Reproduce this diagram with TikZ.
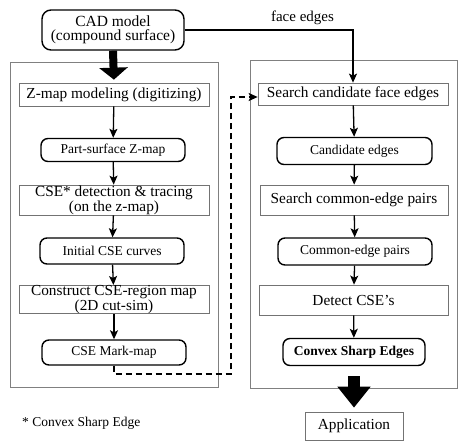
\documentclass[tikz,border=0pt]{standalone}
\usepackage{fontspec}
\setmainfont{Liberation Serif}
\usetikzlibrary{arrows.meta}

\begin{document}
\begin{tikzpicture}[x=1pt, y=-1pt,
    wide/.style={rectangle, draw=black!55, line width=0.7pt, minimum width=190pt, minimum height=23pt, inner sep=0pt, align=center, font=\fontsize{15.3}{13}\selectfont},
    rbox/.style={rectangle, rounded corners=7pt, draw, line width=1.4pt, minimum width=144pt, minimum height=25pt, inner sep=0pt, align=center, font=\fontsize{13.5}{14}\selectfont},
    frame/.style={draw=black!50, line width=0.7pt},
    flow/.style={line width=1.3pt, -{Stealth[length=9pt, width=8pt, inset=2pt]}},
    fat/.style={line width=8pt, -{Triangle[length=12pt, width=28pt]}}]
  \useasboundingbox (0, 0) rectangle (458, 440);

  % the two stages
  \draw[frame] (10, 62) rectangle (218, 387);
  \draw[frame] (250, 60) rectangle (457, 388);

  \node[rbox, minimum width=142pt, minimum height=40pt, rounded corners=9pt, font=\fontsize{15.5}{14.5}\selectfont] (cad) at (113, 30) {CAD model\\(compound surface)};

  \node[wide]   (zmap)    at (114, 94.5)  {Z-map modeling (digitizing)};
  \node[rbox, minimum height=23pt] (part) at (113, 150) {Part-surface Z-map};
  \node[wide, minimum height=30pt] (trace) at (114, 200) {CSE* detection \& tracing\\(on the z-map)};
  \node[rbox, minimum height=26pt] (curves) at (112, 251) {Initial CSE curves};
  \node[wide, minimum height=28pt] (region) at (114, 299.5) {Construct CSE-region map\\(2D cut-sim)};
  \node[rbox]   (markmap) at (114, 352.5) {CSE Mark-map};

  \node[wide, minimum height=22pt] (search) at (353, 94) {Search candidate face edges};
  \node[rbox, minimum width=155pt, minimum height=27pt] (cand) at (354.5, 151) {Candidate edges};
  \node[wide, minimum width=188pt, minimum height=30pt] (pairsearch) at (354, 200) {Search common-edge pairs};
  \node[rbox, minimum width=154pt, minimum height=27pt] (pairs) at (355, 251.5) {Common-edge pairs};
  \node[wide, minimum width=189pt, minimum height=30pt] (detect) at (353.5, 300) {Detect CSE's};
  \node[rbox, minimum width=142pt, minimum height=27pt, font=\fontsize{13.5}{14}\selectfont\bfseries] (convex) at (354, 352) {Convex Sharp Edges};
  \node[wide, minimum width=98pt, minimum height=28pt] (app) at (354, 426) {Application};

  \node[anchor=west, inner sep=0pt, font=\fontsize{13.5}{14}\selectfont] (note) at (22, 423) {* Convex Sharp Edge};

  % fat arrows
  \draw[fat, shorten >=3pt] (cad.south) -- (zmap.north);
  \draw[fat, line width=12pt, -{Triangle[length=21pt, width=32pt]}, shorten <=10pt, shorten >=4pt] (convex.south) -- (app.north);

  \draw[flow] (zmap) -- (part);
  \draw[flow] (part) -- (trace);
  \draw[flow] (trace) -- (curves);
  \draw[flow] (curves) -- (region);
  \draw[flow] (region) -- (markmap);

  \draw[flow] (search) -- (cand);
  \draw[flow] (cand) -- (pairsearch);
  \draw[flow] (pairsearch) -- (pairs);
  \draw[flow] (pairs) -- (detect);
  \draw[flow] (detect) -- (convex);

  \draw[flow] (cad.east) -| (search.north) node[pos=0.35, above=1pt, font=\fontsize{15}{15}\selectfont] (fe) {face edges};

  % mark-map goes over to the search
  \coordinate (turn) at (231, 374);
  \draw[flow, line width=1.5pt, dash pattern=on 6pt off 4pt] (markmap.south) |- (turn) |- ([yshift=-3pt]search.west);
\end{tikzpicture}
\end{document}
